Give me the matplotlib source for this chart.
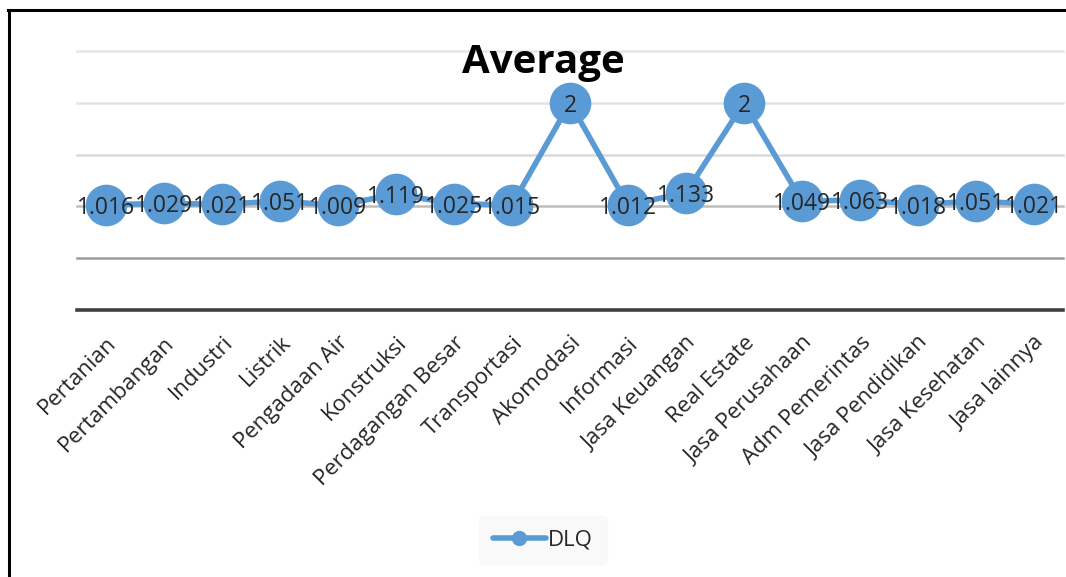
import matplotlib
matplotlib.use("Agg")
import matplotlib.pyplot as plt
from matplotlib.lines import Line2D

categories = ["Pertanian", "Pertambangan", "Industri", "Listrik", "Pengadaan Air",
              "Konstruksi", "Perdagangan Besar", "Transportasi", "Akomodasi",
              "Informasi", "Jasa Keuangan", "Real Estate", "Jasa Perusahaan",
              "Adm Pemerintas", "Jasa Pendidikan", "Jasa Kesehatan", "Jasa lainnya"]
dlq = [1.016, 1.029, 1.021, 1.051, 1.009, 1.119, 1.025, 1.015, 2,
       1.012, 1.133, 2, 1.049, 1.063, 1.018, 1.051, 1.021]
labels = ["1.016", "1.029", "1.021", "1.051", "1.009", "1.119", "1.025", "1.015", "2",
          "1.012", "1.133", "2", "1.049", "1.063", "1.018", "1.051", "1.021"]
series_name = "DLQ"
title = "Average"

plt.rcParams['font.family'] = ['Open Sans', 'DejaVu Sans']
blue = "#5B9BD5"
txt = "#262626"

fig = plt.figure(figsize=(10.66, 5.77), dpi=100)
ax = fig.add_axes([77/1066, 1-310/577, (1063-77)/1066, (310-51)/577])

x = list(range(len(categories)))
ax.plot(x, dlq, color=blue, lw=4.0, marker='o', markersize=29,
        markerfacecolor=blue, markeredgecolor=blue, zorder=3, solid_capstyle='round')
for xi, v, lab in zip(x, dlq, labels):
    ax.text(xi, v, lab, ha='center', va='center_baseline', fontsize=16.5, color=txt, zorder=5)

ax.set_xlim(-0.5, len(categories) - 0.5)
ax.set_ylim(0, 2.5)
grid_vals = [0.5, 1.0, 1.5, 2.0, 2.5]
grid_cols = ["#9a9a9a", "#bdbdbd", "#d9d9d9", "#e2e2e2", "#e6e6e6"]
for g, c in zip(grid_vals, grid_cols):
    ax.axhline(g, color=c, lw=1.8, zorder=1, clip_on=False)
ax.axhline(0, color="#404040", lw=2.6, zorder=2, clip_on=False)

for s in ax.spines.values():
    s.set_visible(False)
ax.set_yticks([])
ax.set_xticks(x)
ax.set_xticklabels(categories, rotation=45, ha='right', rotation_mode='anchor',
                   fontsize=16, color=txt)
ax.tick_params(axis='x', length=0, pad=16)

fig.text(543/1066, 1-62/577, title, ha='center', va='center', fontsize=29,
         fontweight='bold', color='black')

handle = Line2D([0], [0], color=blue, lw=4.0, marker='o', markersize=10,
                markerfacecolor=blue, markeredgecolor=blue, solid_capstyle='round')
leg = fig.legend([handle], [series_name], loc='center', bbox_to_anchor=(543/1066, 1-540/577),
                 frameon=True, fontsize=16, handlelength=2.4, handletextpad=0.1,
                 borderpad=0.6, borderaxespad=0)
leg.get_frame().set_facecolor("#f8f8f8")
leg.get_frame().set_edgecolor("#f8f8f8")
for t in leg.get_texts():
    t.set_color(txt)

# outer frame (left and top edges visible)
fig.add_artist(Line2D([9/1066, 9/1066], [0, 1-10/577], transform=fig.transFigure,
                      color='black', lw=2.2))
fig.add_artist(Line2D([8/1066, 1], [1-10/577, 1-10/577], transform=fig.transFigure,
                      color='black', lw=2.2))

fig.savefig("out.png", dpi=100, facecolor='white')
